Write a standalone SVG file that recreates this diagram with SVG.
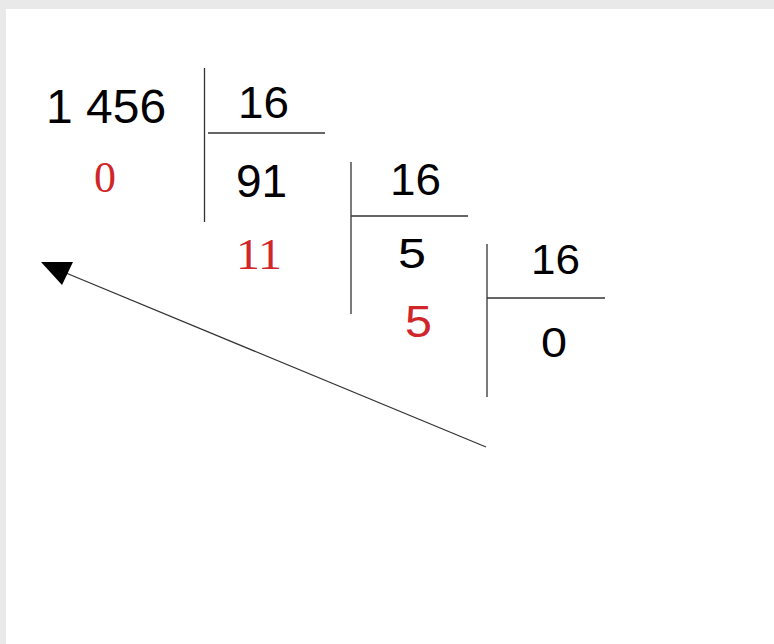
<svg xmlns="http://www.w3.org/2000/svg" width="774" height="644" viewBox="0 0 774 644">
<style>
.n{font-family:"Liberation Sans",Arial,sans-serif;fill:#000}
.r{font-family:"Liberation Serif","Times New Roman",serif;fill:#d0262a}
.rs{font-family:"Liberation Sans",Arial,sans-serif;fill:#d0262a}
.ln{stroke:#333;stroke-width:1.3;fill:none}
</style>
<rect x="0" y="0" width="774" height="644" fill="#e9e9e9"/>
<rect x="6" y="9" width="768" height="635" fill="#fff"/>
<g id="step1">
<text class="n" x="46" y="123" font-size="48">1 456</text>
<text class="n" x="238" y="118" font-size="44" textLength="51" lengthAdjust="spacingAndGlyphs">16</text>
<text class="n" x="236" y="197" font-size="46">91</text>
<text class="r" x="94" y="192" font-size="44">0</text>
<line class="ln" x1="204.5" y1="68" x2="204.5" y2="222"/>
<line class="ln" x1="208" y1="133" x2="325" y2="133"/>
</g>
<g id="step2">
<text class="n" x="390" y="195" font-size="44" textLength="51" lengthAdjust="spacingAndGlyphs">16</text>
<text class="n" x="398" y="268" font-size="42" textLength="28" lengthAdjust="spacingAndGlyphs">5</text>
<text class="r" x="236" y="269" font-size="44" textLength="46" lengthAdjust="spacingAndGlyphs">11</text>
<line class="ln" x1="351" y1="162" x2="351" y2="314"/>
<line class="ln" x1="351" y1="216" x2="468" y2="216"/>
</g>
<g id="step3">
<text class="n" x="531" y="274" font-size="43" textLength="49" lengthAdjust="spacingAndGlyphs">16</text>
<text class="n" x="541" y="357" font-size="42" textLength="26" lengthAdjust="spacingAndGlyphs">0</text>
<text class="rs" x="405" y="337" font-size="44" textLength="27" lengthAdjust="spacingAndGlyphs">5</text>
<line class="ln" x1="487" y1="244" x2="487" y2="397"/>
<line class="ln" x1="487" y1="298" x2="605" y2="298"/>
</g>
<g id="connectors">
<line class="ln" x1="486" y1="447" x2="66" y2="273"/>
<polygon points="41,262 73,262 62,285" fill="#000"/>
</g>
</svg>
